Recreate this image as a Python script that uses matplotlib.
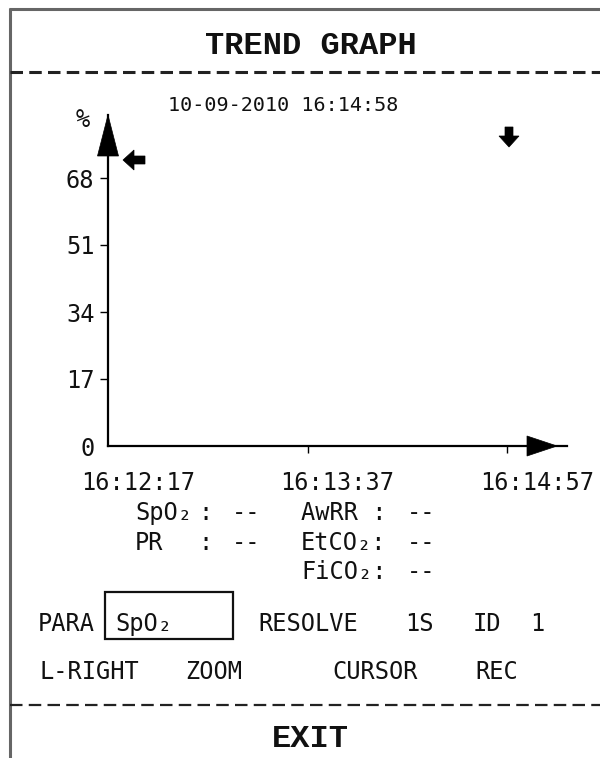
import matplotlib
matplotlib.use('Agg')
import matplotlib.pyplot as plt
from matplotlib.lines import Line2D
from matplotlib.patches import Polygon, Rectangle

plt.rcParams['lines.scale_dashes'] = False

# ---------------- data ----------------
title = 'TREND GRAPH'
timestamp = '10-09-2010 16:14:58'
y_unit = '%'
y_ticks = [0, 17, 34, 51, 68]
x_tick_secs = [0, 80, 160]
x_tick_labels = ['16:12:17', '16:13:37', '16:14:57']
cursor_sec = 160
left_params = ['SpO₂', 'PR']
left_values = ['--', '--']
right_params = ['AwRR :', 'EtCO₂:', 'FiCO₂:']
right_values = ['--', '--', '--']
para_value = 'SpO₂'
resolve_value = '1S'
id_value = '1'
menu_items = ['L-RIGHT', 'ZOOM', 'CURSOR', 'REC']
exit_label = 'EXIT'

# ---------------- layout helpers ----------------
W, H = 600, 758
DPI = 100
fig = plt.figure(figsize=(W / DPI, H / DPI), dpi=DPI)
fig.patch.set_facecolor('white')

MONO = 'DejaVu Sans Mono'
BOLDF = 'Liberation Mono'


def fx(x):
    return x / W


def fy(y):
    return 1 - y / H


def T(x, yc, s, size, ha='left', fam=MONO, weight='normal', cap=0.729):
    em = size * DPI / 72.0
    fig.text(fx(x), fy(yc + cap * em / 2), s, ha=ha, va='baseline',
             fontsize=size, family=fam, fontweight=weight, color='#111111')


def hline(y, x0, x1, lw, color, ls='-'):
    fig.add_artist(Line2D([fx(x0), fx(x1)], [fy(y), fy(y)], transform=fig.transFigure,
                          lw=lw, color=color, linestyle=ls, solid_capstyle='butt'))


def vline(x, y0, y1, lw, color):
    fig.add_artist(Line2D([fx(x), fx(x)], [fy(y0), fy(y1)], transform=fig.transFigure,
                          lw=lw, color=color, solid_capstyle='butt'))


def poly(pts):
    fig.add_artist(Polygon([(fx(a), fy(b)) for a, b in pts], closed=True,
                           transform=fig.transFigure, facecolor='black',
                           edgecolor='black', lw=0.5))


# ---------------- frame ----------------
hline(9, 9, 600, 2.2, '#666666')
vline(10, 8, 758, 2.2, '#666666')
T(311, 44, title, 23, ha='center', fam=BOLDF, weight='bold', cap=0.62)
hline(72, 10, 600, 2.2, '#222222', ls=(0, (9.0, 4.5)))
hline(705, 10, 600, 1.6, '#222222', ls=(0, (9.0, 4.5)))
T(310, 737, exit_label, 23, ha='center', fam=BOLDF, weight='bold', cap=0.62)

# ---------------- trend axes ----------------
ax_left, ax_right, ax_top, ax_bot = 108, 567, 115, 446
ax = fig.add_axes([fx(ax_left), fy(ax_bot), (ax_right - ax_left) / W, (ax_bot - ax_top) / H])
ax.set_facecolor('none')
tick_px_y = (ax_bot - 178) / (ax_bot - ax_top)
ax.set_ylim(0, y_ticks[-1] / tick_px_y)
tick_px_x = (507 - ax_left) / (ax_right - ax_left)
ax.set_xlim(0, x_tick_secs[-1] / tick_px_x)
for s in ['top', 'right']:
    ax.spines[s].set_visible(False)
for s in ['left', 'bottom']:
    ax.spines[s].set_linewidth(1.6)
    ax.spines[s].set_color('black')
ax.set_yticks(y_ticks)
ax.set_yticklabels([str(v) for v in y_ticks], family=MONO, fontsize=17, color='#111111')
ax.tick_params(axis='y', length=5.8, width=1.0, pad=4, direction='out')
ax.yaxis.get_major_ticks()[0].tick1line.set_visible(False)
ax.set_xticks(x_tick_secs)
ax.set_xticklabels([])
ax.tick_params(axis='x', length=5, width=1.0, direction='out')
ax.xaxis.get_major_ticks()[0].tick1line.set_visible(False)

# x tick labels (left aligned slightly before tick)
for sec, lab in zip(x_tick_secs, x_tick_labels):
    px = ax_left + (sec / ax.get_xlim()[1]) * (ax_right - ax_left)
    T(px - 27, 481, lab, 17)

# axis arrowheads
poly([(108, 115), (97.5, 156), (118.5, 156)])
poly([(557, 446), (527, 436), (527, 456)])

# unit and timestamp
T(83, 118, y_unit, 17, ha='center')
T(283, 104, timestamp, 14.5, ha='center')

# left-arrow marker near y-axis
poly([(123, 160), (134, 150), (134, 156), (145, 156), (145, 164), (134, 164), (134, 170)])
# cursor down-arrow at cursor time
cx = ax_left + (cursor_sec / ax.get_xlim()[1]) * (ax_right - ax_left) + 2
poly([(cx - 4, 127), (cx + 4, 127), (cx + 4, 136), (cx + 10, 136), (cx, 147),
      (cx - 10, 136), (cx - 4, 136)])

# ---------------- parameter readouts ----------------
row_y = [511, 541, 570]
for i, (p, v) in enumerate(zip(left_params, left_values)):
    T(135, row_y[i], p, 17)
    T(205, row_y[i], ':', 17, ha='center')
    T(232, row_y[i], v, 17)
for i, (p, v) in enumerate(zip(right_params, right_values)):
    T(301, row_y[i], p, 17)
    T(407, row_y[i], v, 17)

# ---------------- menu rows ----------------
T(38, 622, 'PARA', 17)
fig.add_artist(Rectangle((fx(105), fy(639)), (233 - 105) / W, (639 - 592) / H,
                         transform=fig.transFigure, fill=False, lw=1.6, edgecolor='#111111'))
T(115, 622, para_value, 17)
T(258, 622, 'RESOLVE', 17)
T(405, 622, resolve_value, 17)
T(473, 622, 'ID', 17)
T(530, 622, id_value, 17)

menu_x = [40, 185, 332, 475]
for x, lab in zip(menu_x, menu_items):
    T(x, 670, lab, 17)

fig.savefig('out.png', dpi=DPI, facecolor='white')
